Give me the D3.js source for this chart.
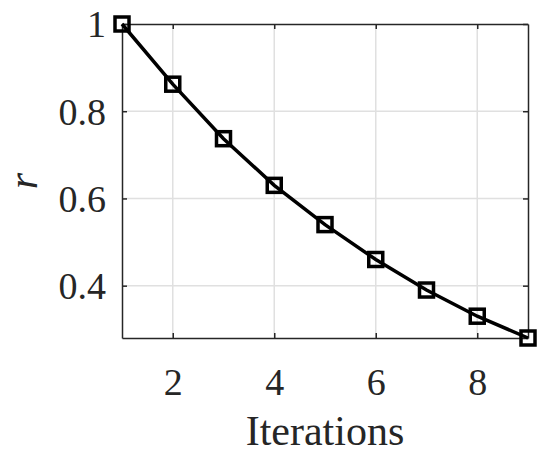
<!DOCTYPE html>
<html>
<head>
<meta charset="utf-8">
<script src="https://cdn.jsdelivr.net/npm/d3@7"></script>
<style>
  body { margin: 0; background: #fff; }
  text { font-family: "Liberation Serif", "Times New Roman", serif; fill: #262626; }
</style>
</head>
<body>
<svg width="550" height="458"></svg>
<script>
// data
let iterations = [1, 2, 3, 4, 5, 6, 7, 8, 9];
let rValues = [1.0, 0.862, 0.737, 0.630, 0.540, 0.460, 0.390, 0.330, 0.280];
let xTicks = [2, 4, 6, 8];
let yTicks = [0.4, 0.6, 0.8, 1];

let svg = d3.select("svg");
let margin = { top: 24, right: 22, bottom: 120, left: 122 };
let width = 550 - margin.left - margin.right;
let height = 458 - margin.top - margin.bottom;

let g = svg.append("g")
  .attr("transform", "translate(" + margin.left + "," + margin.top + ")");

let x = d3.scaleLinear().domain([1, 9]).range([0, width]);
let y = d3.scaleLinear().domain([d3.min(rValues), 1]).range([height, 0]);

// grid
g.selectAll(".gx").data(xTicks).enter().append("line")
  .attr("x1", d => x(d)).attr("x2", d => x(d))
  .attr("y1", 0).attr("y2", height)
  .attr("stroke", "#e0e0e0").attr("stroke-width", 1.5);
g.selectAll(".gy").data(yTicks.filter(d => d < 1)).enter().append("line")
  .attr("y1", d => y(d)).attr("y2", d => y(d))
  .attr("x1", 0).attr("x2", width)
  .attr("stroke", "#e0e0e0").attr("stroke-width", 1.5);

// axes with inward ticks
let fmt = d => d === 1 ? "1" : d3.format(".1f")(d);
let xAxis = g.append("g").attr("transform", "translate(0," + height + ")")
  .call(d3.axisBottom(x).tickValues(xTicks).tickSizeInner(-5).tickSizeOuter(0).tickPadding(30));
let xTop = g.append("g")
  .call(d3.axisTop(x).tickValues(xTicks).tickSizeInner(-5).tickSizeOuter(0).tickFormat(""));
let yAxis = g.append("g")
  .call(d3.axisLeft(y).tickValues(yTicks).tickFormat(fmt).tickSizeInner(-5).tickSizeOuter(0).tickPadding(16));
let yRight = g.append("g").attr("transform", "translate(" + width + ",0)")
  .call(d3.axisRight(y).tickValues(yTicks).tickSizeInner(-5).tickSizeOuter(0).tickFormat(""));

[xAxis, xTop, yAxis, yRight].forEach(a => {
  a.select(".domain").attr("stroke", "#262626").attr("stroke-width", 1.5);
  a.selectAll(".tick line").attr("stroke", "#262626").attr("stroke-width", 1.5);
  a.selectAll("text").style("font-family", "Liberation Serif").style("fill", "#262626");
});
xAxis.selectAll("text").attr("font-size", 38).attr("dy", "0.71em");
yAxis.selectAll("text").attr("font-size", 38).attr("dy", "0.34em");

// line
g.append("path")
  .datum(iterations)
  .attr("fill", "none")
  .attr("stroke", "#000")
  .attr("stroke-width", 3.5)
  .attr("d", d3.line().x(d => x(d)).y((d, i) => y(rValues[i])));

// square markers
let s = 14;
g.selectAll(".mk").data(iterations).enter().append("rect")
  .attr("x", d => x(d) - s / 2)
  .attr("y", (d, i) => y(rValues[i]) - s / 2)
  .attr("width", s).attr("height", s)
  .attr("fill", "none").attr("stroke", "#000").attr("stroke-width", 3.5);

// labels
svg.append("text")
  .attr("x", margin.left + width / 2)
  .attr("y", 445)
  .attr("text-anchor", "middle")
  .attr("font-size", 42)
  .text("Iterations");

svg.append("text")
  .attr("transform", "translate(37," + (margin.top + height / 2) + ") rotate(-90)")
  .attr("text-anchor", "middle")
  .attr("font-size", 42)
  .attr("font-style", "italic")
  .text("r");
</script>
</body>
</html>
